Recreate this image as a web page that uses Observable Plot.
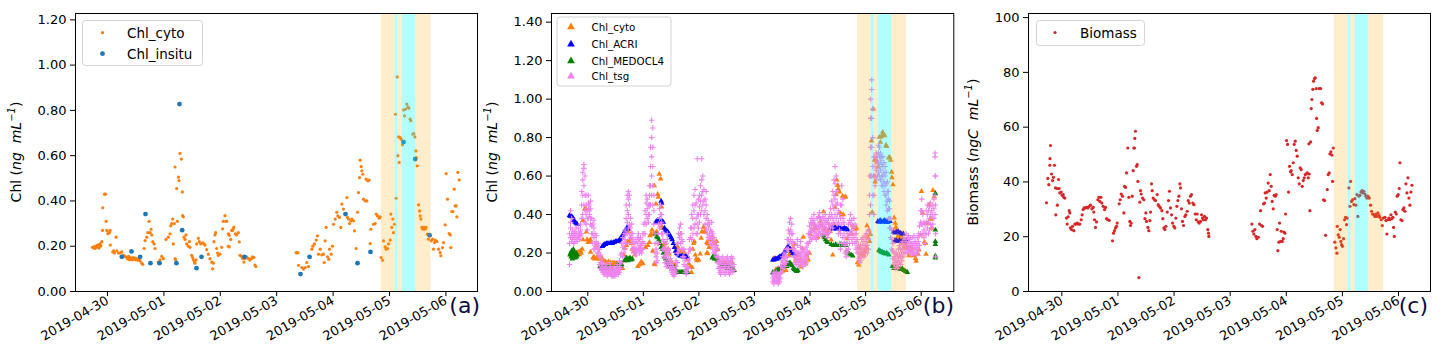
<!DOCTYPE html>
<html>
<head>
<meta charset="utf-8">
<script src="https://cdn.jsdelivr.net/npm/d3@7"></script>
<script src="https://cdn.jsdelivr.net/npm/@observablehq/plot@0.6"></script>
<style>
  body { margin: 0; background: #fff; }
  #wrap { display: flex; width: 1443px; height: 360px; }
  svg { display: block; }
</style>
</head>
<body>
<div id="wrap"></div>
<script>
// ---------------- data (day offsets from 2019-04-30 00:00 UTC) ----------------
const tickDays = [0, 1, 2, 3, 4, 5, 6];
const chlTicks = [0, 0.2, 0.4, 0.6, 0.8, 1.0, 1.2];
const chlTicksB = [0, 0.2, 0.4, 0.6, 0.8, 1.0, 1.2, 1.4];
const bioTicks = [0, 20, 40, 60, 80, 100];

const spanOrange = [[4.855, 5.10], [5.152, 5.225], [5.47, 5.735]];
const spanCyan = [[5.10, 5.152], [5.225, 5.47]];

const chlCyto = [
[-0.265,0.195],[-0.25,0.193],[-0.235,0.198],[-0.22,0.19],[-0.205,0.2],[-0.19,0.196],[-0.175,0.205],[-0.16,0.203],[-0.15,0.192],[-0.14,0.208],[-0.13,0.21],[-0.12,0.2],[-0.1,0.22],[-0.088,0.27],[-0.083,0.37],[-0.053,0.43],[-0.035,0.43],[-0.024,0.31],[-0.012,0.27],[0.006,0.255],[0.018,0.26],[0.035,0.26],[0.047,0.27],[0.05,0.205],[0.094,0.175],[0.11,0.18],[0.124,0.17],[0.153,0.24],[0.165,0.18],[0.195,0.17],[0.224,0.17],[0.254,0.175],[0.283,0.16],[0.313,0.155],[0.342,0.15],[0.358,0.145],[0.374,0.155],[0.39,0.14],[0.406,0.15],[0.422,0.145],[0.438,0.14],[0.454,0.15],[0.47,0.143],[0.486,0.148],[0.502,0.14],[0.518,0.145],[0.534,0.138],[0.549,0.142],[0.578,0.135],[0.608,0.125],[0.625,0.12],[0.649,0.19],[0.667,0.225],[0.696,0.24],[0.714,0.26],[0.737,0.31],[0.755,0.26],[0.773,0.275],[0.785,0.25],[0.802,0.22],[0.826,0.21],[0.844,0.19],[0.9,0.13],[0.932,0.14],[0.962,0.155],[0.991,0.145],[1.038,0.23],[1.08,0.24],[1.109,0.255],[1.121,0.29],[1.139,0.30],[1.156,0.32],[1.168,0.21],[1.186,0.30],[1.198,0.55],[1.198,0.145],[1.209,0.14],[1.227,0.455],[1.239,0.31],[1.257,0.505],[1.268,0.49],[1.286,0.61],[1.31,0.585],[1.327,0.44],[1.333,0.335],[1.345,0.33],[1.357,0.24],[1.375,0.23],[1.392,0.25],[1.404,0.21],[1.434,0.2],[1.451,0.22],[1.463,0.195],[1.493,0.16],[1.51,0.15],[1.522,0.14],[1.54,0.13],[1.552,0.125],[1.569,0.14],[1.581,0.21],[1.611,0.235],[1.628,0.22],[1.652,0.21],[1.687,0.215],[1.711,0.21],[1.729,0.205],[1.758,0.185],[1.788,0.165],[1.817,0.145],[1.847,0.13],[1.864,0.1],[1.876,0.125],[1.888,0.22],[1.906,0.25],[1.917,0.26],[1.935,0.19],[1.953,0.17],[1.965,0.16],[1.994,0.165],[2.024,0.195],[2.041,0.277],[2.053,0.31],[2.083,0.335],[2.1,0.31],[2.112,0.31],[2.142,0.255],[2.159,0.248],[2.183,0.23],[2.201,0.27],[2.218,0.27],[2.23,0.277],[2.242,0.285],[2.265,0.255],[2.289,0.25],[2.319,0.26],[2.336,0.219],[2.16,0.197],[2.142,0.2],[2.348,0.16],[2.378,0.155],[2.395,0.146],[2.419,0.13],[2.437,0.146],[2.466,0.153],[2.496,0.146],[2.525,0.139],[2.555,0.146],[2.572,0.153],[2.596,0.15],[2.614,0.117],[2.631,0.11],
[3.345,0.172],[3.36,0.17],[3.375,0.172],[3.387,0.116],[3.446,0.106],[3.475,0.099],[3.505,0.106],[3.534,0.128],[3.564,0.11],[3.593,0.15],[3.623,0.187],[3.641,0.2],[3.67,0.21],[3.7,0.227],[3.723,0.246],[3.741,0.165],[3.771,0.187],[3.8,0.162],[3.83,0.165],[3.859,0.224],[3.842,0.128],[3.877,0.283],[3.901,0.153],[3.924,0.143],[3.936,0.187],[3.966,0.165],[3.989,0.2],
[4.007,0.297],[4.037,0.32],[4.066,0.35],[4.084,0.334],[4.113,0.327],[4.137,0.283],[4.155,0.386],[4.184,0.364],[4.214,0.342],[4.243,0.415],[4.255,0.327],[4.273,0.32],[4.291,0.3],[4.314,0.312],[4.332,0.32],[4.362,0.312],[4.379,0.268],[4.409,0.19],[4.433,0.35],[4.45,0.437],[4.468,0.503],[4.48,0.58],[4.498,0.552],[4.509,0.533],[4.527,0.518],[4.539,0.408],[4.569,0.4],[4.586,0.496],[4.598,0.4],[4.616,0.489],[4.64,0.492],[4.657,0.212],[4.669,0.275],[4.716,0.297],[4.746,0.3],[4.764,0.342],[4.787,0.334],[4.817,0.324],[4.835,0.33],
[4.852,0.15],[4.876,0.138],[4.894,0.224],[4.923,0.197],[4.941,0.187],[4.965,0.19],[4.982,0.21],[5.012,0.227],[5.024,0.342],[5.041,0.283],[5.059,0.32],[5.071,0.26],[5.089,0.297],[5.106,0.783],[5.118,0.412],[5.136,0.948],[5.148,0.6],[5.16,0.683],[5.171,0.57],[5.189,0.68],[5.207,0.673],[5.23,0.648],[5.248,0.802],[5.266,0.776],[5.284,0.805],[5.307,0.828],[5.325,0.816],[5.343,0.81],[5.366,0.761],[5.378,0.754],[5.414,0.695],[5.431,0.698],[5.449,0.683],[5.467,0.621],[5.473,0.592],[5.491,0.555],[5.514,0.383],[5.532,0.356],[5.544,0.334],[5.556,0.32],[5.573,0.283],[5.591,0.275],[5.615,0.283],[5.632,0.275],[5.65,0.283],[5.674,0.253],[5.691,0.231],[5.721,0.246],[5.739,0.224],[5.762,0.231],[5.78,0.187],[5.798,0.216],[5.81,0.227],[5.839,0.221],[5.869,0.187],[5.898,0.172],[5.91,0.158],[5.94,0.194],[5.957,0.216],[5.987,0.294],[6.005,0.521],[6.028,0.408],[6.058,0.256],[6.076,0.25],[6.087,0.194],[6.105,0.353],[6.123,0.353],[6.147,0.452],[6.164,0.378],[6.182,0.378],[6.194,0.33],[6.212,0.526],[6.235,0.493]
];

const chlInsitu = [
[0.254,0.153],[0.426,0.177],[0.579,0.153],[0.674,0.342],[0.762,0.125],[0.922,0.125],[1.223,0.125],[1.277,0.828],[1.324,0.271],[1.578,0.103],[1.667,0.153],[2.429,0.153],[3.422,0.077],[3.582,0.153],[4.22,0.342],[4.433,0.125],[4.663,0.175],[5.248,0.66],[5.455,0.585],[5.709,0.249]
];

const chlACRI = [
[-0.33,0.395],[-0.31,0.39],[-0.29,0.39],[-0.27,0.385],[-0.25,0.37],[-0.23,0.36],[-0.21,0.355],[-0.19,0.35],
[0.26,0.235],[0.28,0.24],[0.30,0.245],[0.32,0.245],[0.34,0.25],[0.36,0.25],[0.38,0.25],[0.40,0.25],[0.42,0.255],[0.44,0.25],[0.46,0.255],[0.48,0.255],[0.50,0.26],[0.52,0.26],[0.54,0.26],[0.56,0.265],[0.58,0.27],[0.60,0.28],[0.62,0.29],[0.64,0.30],[0.66,0.31],[0.68,0.32],[0.70,0.33],[0.72,0.33],[0.74,0.325],
[1.22,0.36],[1.24,0.365],[1.26,0.37],[1.28,0.37],[1.30,0.36],[1.32,0.47],[1.33,0.46],[1.34,0.365],[1.36,0.36],[1.38,0.33],[1.40,0.32],[1.42,0.315],[1.44,0.31],[1.46,0.30],[1.48,0.29],[1.50,0.28],[1.52,0.27],[1.54,0.25],[1.56,0.23],[1.58,0.21],[1.60,0.20],[1.62,0.195],[1.64,0.19],[1.66,0.185],[1.68,0.185],[1.70,0.185],[1.72,0.18],[1.74,0.18],[1.76,0.18],[1.78,0.18],
[3.33,0.165],[3.35,0.165],[3.37,0.17],[3.39,0.17],[3.41,0.17],[3.43,0.175],[3.45,0.18],[3.47,0.18],[3.49,0.185],[3.51,0.19],[3.53,0.2],[3.55,0.21],[3.57,0.22],[3.59,0.23],[3.61,0.23],[3.63,0.225],[3.65,0.22],[3.67,0.21],[3.69,0.2],[3.71,0.195],
[4.38,0.33],[4.40,0.33],[4.42,0.325],[4.44,0.33],[4.46,0.33],[4.48,0.325],[4.50,0.33],[4.52,0.33],[4.54,0.325],[4.56,0.33],[4.58,0.325],[4.60,0.325],[4.62,0.33],[4.64,0.325],[4.66,0.325],[4.68,0.32],
[5.22,0.365],[5.24,0.36],[5.26,0.37],[5.28,0.365],[5.30,0.36],[5.32,0.365],[5.34,0.37],[5.36,0.365],[5.38,0.36],[5.40,0.36],[5.42,0.37],[5.44,0.365],
[5.50,0.31],[5.53,0.305],[5.56,0.31],[5.59,0.31],[5.62,0.305],[5.65,0.30],[5.68,0.30],
[5.52,0.265],[5.55,0.265],[5.58,0.26],[5.61,0.265],[5.64,0.26],[5.67,0.265],[5.70,0.26],[5.73,0.265]
];

const chlMEDOCL4 = [
[-0.32,0.19],[-0.31,0.2],[-0.30,0.18],[-0.29,0.21],[-0.28,0.17],[-0.27,0.2],[-0.26,0.22],[-0.25,0.185],[-0.24,0.2],[-0.23,0.175],[-0.22,0.19],[-0.21,0.2],[-0.2,0.18],[-0.19,0.19],
[0.22,0.13],[0.24,0.125],[0.26,0.12],[0.28,0.125],[0.30,0.125],[0.32,0.12],[0.34,0.125],[0.36,0.12],[0.38,0.125],[0.40,0.12],[0.42,0.125],[0.44,0.12],
[0.53,0.14],[0.55,0.135],[0.57,0.14],[0.59,0.135],[0.61,0.14],
[0.66,0.16],[0.68,0.17],[0.70,0.175],[0.72,0.16],[0.74,0.17],[0.76,0.175],[0.78,0.165],[0.80,0.17],
[1.22,0.30],[1.24,0.285],[1.26,0.28],[1.28,0.27],[1.30,0.25],[1.32,0.23],[1.34,0.22],[1.36,0.2],[1.38,0.18],[1.40,0.17],[1.42,0.155],[1.44,0.15],[1.46,0.14],[1.48,0.13],[1.50,0.125],[1.52,0.125],[1.54,0.12],[1.56,0.125],
[1.60,0.105],[1.62,0.1],[1.64,0.1],[1.66,0.1],[1.68,0.1],[1.70,0.1],[1.72,0.1],[1.74,0.1],[1.76,0.1],[1.78,0.105],[1.80,0.1],
[2.24,0.175],[2.26,0.185],[2.28,0.17],[2.30,0.18],[2.32,0.17],[2.34,0.165],
[2.42,0.14],[2.45,0.13],[2.48,0.135],[2.51,0.12],[2.54,0.13],[2.57,0.125],[2.60,0.12],[2.63,0.11],
[3.33,0.1],[3.35,0.095],[3.37,0.1],[3.39,0.105],[3.41,0.11],[3.43,0.12],[3.45,0.115],[3.47,0.12],[3.49,0.125],[3.51,0.13],
[3.58,0.13],[3.60,0.14],[3.62,0.145],[3.64,0.15],[3.66,0.14],[3.68,0.135],[3.70,0.12],[3.72,0.115],[3.74,0.11],[3.76,0.105],[3.78,0.11],
[4.24,0.29],[4.26,0.28],[4.28,0.27],[4.30,0.26],[4.32,0.255],
[4.38,0.245],[4.42,0.24],[4.46,0.245],[4.50,0.24],[4.54,0.245],[4.58,0.24],[4.62,0.245],[4.65,0.24],
[4.68,0.2],[4.71,0.195],[4.74,0.19],[4.77,0.185],
[5.24,0.215],[5.26,0.21],[5.28,0.205],[5.30,0.205],[5.32,0.2],[5.34,0.2],[5.36,0.195],[5.38,0.2],[5.40,0.195],[5.42,0.19],
[5.48,0.13],[5.51,0.12],[5.54,0.125],[5.57,0.12],[5.60,0.12],[5.63,0.115],[5.66,0.12],[5.69,0.11],[5.72,0.105],[5.75,0.1],
[6.255,0.51],[6.255,0.32],[6.255,0.26],[6.255,0.245],[6.255,0.185],[6.255,0.175]
];

// each row: day, then the readings taken around that time
const chlTsg = [
[-0.33,0.14,0.30,0.25],[-0.31,0.28,0.33,0.36,0.42],[-0.29,0.3,0.26,0.38],[-0.27,0.27,0.29,0.32],[-0.25,0.25,0.28,0.3],[-0.23,0.26,0.29,0.31],[-0.21,0.27,0.3,0.33],[-0.19,0.26,0.28],[-0.17,0.28,0.3,0.33],[-0.15,0.27,0.29,0.3],[-0.13,0.29,0.32,0.35],[-0.11,0.3,0.38,0.45,0.52],[-0.09,0.4,0.5,0.58,0.62],[-0.07,0.45,0.55,0.64,0.66],[-0.05,0.36,0.42,0.5,0.6],[-0.03,0.35,0.4,0.45,0.5],[-0.01,0.32,0.38,0.42],
[0.01,0.38,0.43,0.46,0.5],[0.03,0.4,0.42,0.45],[0.05,0.35,0.38,0.43,0.47],[0.07,0.3,0.34,0.38],[0.09,0.25,0.3,0.35],[0.11,0.22,0.28,0.33,0.37],[0.13,0.22,0.25,0.3],[0.15,0.23,0.26,0.29],[0.17,0.2,0.24],[0.19,0.2,0.22,0.25],[0.21,0.14,0.18,0.22],[0.23,0.12,0.15,0.19],[0.25,0.11,0.14,0.17],[0.27,0.1,0.12,0.15],[0.29,0.09,0.11,0.13],[0.31,0.09,0.1,0.12],[0.33,0.1,0.12,0.14],[0.35,0.08,0.1,0.12],[0.37,0.09,0.11],[0.39,0.1,0.12,0.15],[0.41,0.09,0.11,0.13],[0.43,0.08,0.1,0.12],[0.45,0.08,0.09,0.11],[0.47,0.08,0.1,0.12],[0.49,0.08,0.09,0.1],[0.51,0.09,0.11,0.13],[0.53,0.1,0.12,0.14],[0.55,0.09,0.1,0.12],[0.57,0.1,0.13,0.16],[0.59,0.12,0.15,0.19],[0.61,0.15,0.2,0.25],[0.63,0.18,0.23,0.28],[0.65,0.2,0.25,0.3],[0.67,0.22,0.27,0.32],[0.69,0.25,0.3,0.38,0.45],[0.71,0.3,0.36,0.42,0.5],[0.73,0.33,0.4,0.48,0.52],[0.75,0.3,0.35,0.45,0.5],[0.77,0.28,0.33,0.38],[0.79,0.25,0.3,0.35],[0.81,0.22,0.26,0.3],[0.83,0.2,0.23,0.27],[0.85,0.2,0.22,0.25],[0.87,0.19,0.22,0.26],[0.89,0.21,0.25,0.28],[0.91,0.22,0.27,0.3],[0.93,0.2,0.23,0.27],[0.95,0.21,0.24,0.28],[0.97,0.2,0.22,0.25],[0.99,0.22,0.26,0.3],
[1.01,0.25,0.3,0.35],[1.03,0.3,0.36,0.42],[1.05,0.35,0.4,0.46,0.5],[1.07,0.38,0.43,0.48],[1.09,0.36,0.4,0.45],[1.11,0.4,0.45,0.5,0.55],[1.13,0.45,0.55,0.65,0.75],[1.15,0.5,0.6,0.7,0.8,0.89],[1.17,0.45,0.55,0.65,0.75,0.85],[1.19,0.35,0.42,0.5],[1.21,0.2,0.25,0.3],[1.23,0.15,0.18,0.22],[1.25,0.16,0.2,0.25],[1.27,0.25,0.3,0.35],[1.29,0.33,0.38,0.43],[1.31,0.35,0.4,0.45],[1.33,0.3,0.36,0.4],[1.35,0.22,0.27,0.3],[1.37,0.18,0.22,0.26],[1.39,0.15,0.19,0.23],[1.41,0.13,0.17,0.21,0.25],[1.43,0.15,0.2,0.27,0.3],[1.45,0.14,0.18,0.22],[1.47,0.12,0.16,0.2],[1.49,0.12,0.14,0.17],[1.51,0.1,0.12,0.15],[1.53,0.09,0.11,0.13],[1.55,0.08,0.1,0.12],[1.57,0.09,0.11],[1.59,0.1,0.13,0.16],[1.61,0.15,0.2,0.25],[1.63,0.2,0.25,0.3],[1.65,0.22,0.28,0.33],[1.67,0.25,0.3,0.35],[1.69,0.22,0.27,0.3],[1.71,0.18,0.22,0.26],[1.73,0.14,0.18,0.22],[1.75,0.1,0.13,0.16],[1.77,0.09,0.11,0.13],[1.79,0.1,0.13],[1.81,0.12,0.16,0.2],[1.83,0.17,0.22,0.27],[1.85,0.22,0.28,0.33],[1.87,0.27,0.33,0.4],[1.89,0.3,0.38,0.45],[1.91,0.33,0.42,0.5],[1.93,0.35,0.45,0.53],[1.95,0.3,0.38,0.46],[1.97,0.3,0.35,0.4,0.69],[1.99,0.33,0.4,0.48],
[2.01,0.36,0.44,0.5],[2.03,0.4,0.47,0.55],[2.05,0.42,0.5,0.58,0.69],[2.07,0.45,0.52,0.6],[2.09,0.4,0.47,0.53],[2.11,0.35,0.42,0.48],[2.13,0.32,0.38,0.45,0.52],[2.15,0.3,0.35,0.4],[2.17,0.28,0.33,0.37],[2.19,0.27,0.3,0.35],[2.21,0.25,0.28,0.32],[2.23,0.24,0.28,0.31,0.36],[2.25,0.22,0.26,0.3],[2.27,0.2,0.24,0.28],[2.29,0.2,0.23,0.26],[2.31,0.18,0.21,0.24],[2.33,0.15,0.18,0.22],[2.35,0.12,0.15,0.18],[2.37,0.1,0.13,0.16],[2.39,0.09,0.12,0.15],[2.41,0.1,0.14,0.17],[2.43,0.12,0.15,0.18],[2.45,0.1,0.13,0.16],[2.47,0.09,0.12,0.14],[2.49,0.1,0.14,0.17],[2.51,0.12,0.16,0.18],[2.53,0.1,0.13,0.16],[2.55,0.09,0.12,0.15],[2.57,0.1,0.14,0.17],[2.59,0.11,0.15,0.18],[2.61,0.1,0.13,0.17],[2.63,0.11,0.14],
[3.33,0.05,0.07,0.09],[3.35,0.04,0.06,0.08,0.1],[3.37,0.05,0.07,0.09],[3.39,0.06,0.08,0.1],[3.41,0.05,0.07,0.09],[3.43,0.04,0.06,0.08],[3.45,0.05,0.07,0.09],[3.47,0.07,0.1,0.13],[3.49,0.1,0.13,0.16],[3.51,0.12,0.15,0.18],[3.53,0.14,0.17,0.2],[3.55,0.13,0.16,0.19],[3.57,0.15,0.18,0.22],[3.59,0.18,0.22,0.27],[3.61,0.22,0.27,0.32],[3.63,0.25,0.3,0.36],[3.65,0.27,0.32,0.38],[3.67,0.25,0.3,0.35],[3.69,0.22,0.26,0.3],[3.71,0.18,0.22,0.25],[3.73,0.15,0.18,0.21],[3.75,0.14,0.17,0.2],[3.77,0.16,0.2,0.24,0.27],[3.79,0.14,0.17,0.2],[3.81,0.13,0.16,0.19],[3.83,0.15,0.19,0.23,0.26],[3.85,0.14,0.17,0.21],[3.87,0.13,0.16,0.2],[3.89,0.15,0.18,0.22],[3.91,0.14,0.17,0.2],[3.93,0.15,0.19,0.23],[3.95,0.17,0.21,0.25],[3.97,0.2,0.25,0.3],[3.99,0.26,0.3,0.34],
[4.01,0.28,0.32,0.36],[4.03,0.27,0.31,0.35,0.38],[4.05,0.28,0.32,0.36],[4.07,0.29,0.33,0.37,0.4],[4.09,0.28,0.31,0.35],[4.11,0.27,0.3,0.34],[4.13,0.29,0.33,0.38],[4.15,0.3,0.34,0.39],[4.17,0.32,0.36,0.41],[4.19,0.3,0.34,0.38],[4.21,0.29,0.33,0.37],[4.23,0.31,0.35,0.39],[4.25,0.3,0.34,0.38],[4.27,0.32,0.36,0.4],[4.29,0.3,0.33,0.37],[4.31,0.28,0.32,0.36],[4.33,0.3,0.35,0.38],[4.35,0.31,0.35,0.4],[4.37,0.33,0.38,0.43],[4.39,0.35,0.4,0.47],[4.41,0.33,0.38,0.45,0.52],[4.43,0.36,0.43,0.5,0.58],[4.45,0.4,0.48,0.56,0.65],[4.47,0.38,0.45,0.52,0.6],[4.49,0.35,0.4,0.46],[4.51,0.3,0.36,0.42],[4.53,0.25,0.32,0.4],[4.55,0.22,0.3,0.38,0.45],[4.57,0.25,0.35,0.45,0.55],[4.59,0.28,0.38,0.48],[4.61,0.25,0.3,0.36],[4.63,0.2,0.24,0.28],[4.65,0.18,0.21,0.25],[4.67,0.2,0.25,0.3],[4.69,0.22,0.28,0.35],[4.71,0.25,0.3,0.37],[4.73,0.3,0.35,0.4],[4.75,0.27,0.32,0.37],[4.77,0.25,0.3,0.34],[4.79,0.28,0.33,0.38],[4.81,0.25,0.3,0.35],[4.83,0.22,0.26,0.3],[4.85,0.2,0.23,0.27],[4.87,0.17,0.2,0.24],[4.89,0.15,0.18,0.22],[4.91,0.16,0.2,0.24],[4.93,0.18,0.22,0.27],[4.95,0.2,0.24,0.28],[4.97,0.18,0.22,0.26],[4.99,0.2,0.24,0.29],
[5.01,0.22,0.26,0.3],[5.03,0.2,0.24,0.28],[5.05,0.22,0.27,0.32],[5.07,0.3,0.4,0.5,0.6],[5.09,0.45,0.6,0.75,0.9,1.0],[5.11,0.6,0.75,0.9,1.05,1.1],[5.13,0.5,0.65,0.8,0.95],[5.15,0.4,0.5,0.6,0.7],[5.17,0.55,0.6,0.65,0.7],[5.19,0.58,0.63,0.68,0.72],[5.21,0.6,0.65,0.7],[5.23,0.62,0.67,0.72,0.76],[5.25,0.6,0.65,0.7,0.75],[5.27,0.58,0.63,0.68,0.72],[5.29,0.55,0.6,0.66,0.7],[5.31,0.55,0.6,0.65,0.7],[5.33,0.52,0.57,0.62,0.67],[5.35,0.5,0.55,0.6,0.65],[5.37,0.45,0.5,0.56,0.62],[5.39,0.42,0.47,0.52,0.57],[5.41,0.38,0.43,0.48,0.52],[5.43,0.33,0.38,0.43,0.47],[5.45,0.28,0.33,0.38],[5.47,0.22,0.27,0.32],[5.49,0.17,0.21,0.25],[5.51,0.14,0.17,0.2],[5.53,0.12,0.15,0.18],[5.55,0.13,0.16,0.2],[5.57,0.12,0.15,0.19],[5.59,0.13,0.17,0.22],[5.61,0.15,0.19,0.24],[5.63,0.14,0.18,0.22],[5.65,0.16,0.2,0.25],[5.67,0.18,0.22,0.26],[5.69,0.2,0.24,0.28],[5.71,0.2,0.24,0.27],[5.73,0.22,0.26,0.3],[5.75,0.2,0.24,0.28],[5.77,0.22,0.26,0.29],[5.79,0.2,0.23,0.27],[5.81,0.21,0.25,0.28],[5.83,0.19,0.22,0.25],[5.85,0.2,0.24,0.28],[5.87,0.22,0.25,0.29],[5.89,0.2,0.23,0.26],[5.91,0.19,0.22,0.25],[5.93,0.2,0.24,0.28],[5.95,0.22,0.26,0.3],[5.97,0.24,0.29,0.34],[5.99,0.3,0.36,0.42],
[6.01,0.35,0.42,0.48],[6.03,0.3,0.35,0.4],[6.05,0.28,0.32,0.36],[6.07,0.25,0.3,0.35],[6.09,0.3,0.36,0.42],[6.11,0.33,0.4,0.45],[6.13,0.3,0.36,0.42],[6.15,0.32,0.38,0.44],[6.17,0.35,0.4,0.46],[6.19,0.33,0.38,0.42],[6.21,0.35,0.4,0.45],[6.23,0.38,0.43,0.48],[6.25,0.4,0.5,0.6,0.7,0.72],[6.26,0.18,0.3,0.45,0.6]
];

const biomass = [
[-0.273,32.4],[-0.25,41.3],[-0.232,39],[-0.214,46.1],[-0.202,53.3],[-0.211,48.5],[-0.184,42.9],[-0.166,40.5],[-0.149,41.7],[-0.131,46.1],[-0.113,37.8],[-0.107,28],[-0.083,37.6],[-0.08,31.5],[-0.059,40.9],[-0.048,37.6],[-0.036,36],[-0.012,36.3],[0.006,35.1],[0.024,35.4],[0.036,34.4],[0.053,34.1],
[0.083,26.8],[0.095,24.6],[0.113,27.3],[0.131,29.5],[0.143,28.7],[0.154,23.2],[0.172,22.6],[0.19,23.8],[0.214,22.2],[0.232,24.6],[0.255,24.6],[0.273,25],[0.297,24.6],[0.321,24.6],[0.345,26.2],[0.362,28],[0.38,29.9],[0.398,30.5],[0.422,30.5],[0.44,30.7],[0.463,30.5],[0.487,31.1],[0.511,31.5],[0.535,30.2],[0.559,30.7],[0.57,29],[0.582,26.2],[0.6,23.4],[0.618,25.4],[0.642,33.5],[0.66,34.4],[0.677,32.9],[0.695,34.4],[0.713,32.3],[0.737,31.1],[0.761,29.9],[0.778,30.7],[0.796,26.6],[0.82,26.2],[0.844,26],[0.903,18.5],[0.921,21.3],[0.939,22.2],[0.957,23.2],[0.974,23.8],[0.986,25],
[1.022,32],[1.04,33.5],[1.058,35.6],[1.081,34.8],[1.105,28.7],[1.117,38.4],[1.135,38],[1.153,43.3],[1.176,52.4],[1.194,34.4],[1.212,25.6],[1.224,24.1],[1.236,25],[1.254,34.8],[1.272,44.1],[1.283,52.4],[1.295,52.4],[1.301,55.9],[1.313,58.5],[1.331,45.7],[1.343,46.3],[1.355,40.2],[1.373,5.1],[1.39,32.6],[1.402,36.8],[1.414,35.6],[1.438,34.1],[1.462,33.5],[1.48,26.6],[1.497,28.7],[1.509,25.6],[1.533,23.4],[1.551,22.2],[1.569,25.9],[1.581,29],[1.598,39.3],[1.61,36.8],[1.628,34.1],[1.652,33.5],[1.67,33.2],[1.699,35.4],[1.717,31.7],[1.735,31.1],[1.759,30.5],[1.783,29.5],[1.8,26.6],[1.818,23.2],[1.836,22.6],[1.854,23.8],[1.878,29],[1.901,33.2],[1.919,36.6],[1.937,30.5],[1.955,28],[1.973,25],[1.996,23.8],
[2.014,23.2],[2.032,26.8],[2.05,31.1],[2.068,33.2],[2.086,34.8],[2.103,39.3],[2.115,37.8],[2.133,30.2],[2.151,25.6],[2.169,24.1],[2.193,27.4],[2.21,28],[2.234,29.3],[2.252,33.2],[2.27,32.3],[2.293,34.8],[2.311,35.4],[2.335,32.3],[2.353,31.7],[2.377,28.3],[2.395,26.2],[2.412,28.3],[2.43,25.4],[2.448,25],[2.472,25.6],[2.49,28],[2.507,26.8],[2.525,26.2],[2.543,27.4],[2.561,26.2],[2.579,26.8],[2.602,22.6],[2.614,21.3],[2.62,20.1],
[3.387,24.6],[3.405,22],[3.422,21],[3.44,22.6],[3.458,20.1],[3.476,19.3],[3.5,19.8],[3.523,24.6],[3.541,29.5],[3.559,24.1],[3.577,23.8],[3.595,32],[3.613,32.3],[3.624,36],[3.642,34.1],[3.66,36.3],[3.678,39.6],[3.696,36.8],[3.714,42.7],[3.731,38.4],[3.749,32.9],[3.767,30.2],[3.785,35.1],[3.803,34.8],[3.821,35.4],[3.838,22.6],[3.85,14.9],[3.868,18],[3.88,25],[3.898,18.3],[3.91,22],[3.928,18.3],[3.945,19.3],[3.957,21.7],[3.975,21.3],[3.987,28.3],
[4.005,55.1],[4.023,53.7],[4.04,36.3],[4.058,45.7],[4.076,43.7],[4.088,44.1],[4.106,42.7],[4.124,47],[4.141,53.7],[4.159,54.9],[4.177,51.5],[4.195,49.4],[4.213,41.5],[4.231,39.3],[4.248,45.1],[4.266,44.5],[4.284,38.4],[4.302,40.5],[4.32,41.5],[4.338,42.7],[4.355,42.9],[4.373,43.3],[4.391,41.5],[4.403,53.9],[4.409,42.9],[4.421,29.5],[4.433,54.6],[4.444,66.8],[4.456,70.1],[4.474,73.8],[4.486,76.8],[4.504,77.8],[4.516,78],[4.534,74.1],[4.54,63.2],[4.551,58.8],[4.569,59.8],[4.587,74.1],[4.611,74.1],[4.629,68.9],[4.646,68.5],[4.664,33.5],[4.682,33.2],[4.7,20.5],[4.73,37.2],[4.747,42.7],[4.765,43.3],[4.777,50.2],[4.795,51],[4.813,49.8],[4.825,40.2],[4.837,52.4],
[4.866,18],[4.884,15.9],[4.902,14],[4.908,23.8],[4.926,20.7],[4.944,19.8],[4.961,22.6],[4.973,18.3],[4.985,17.1],[5.003,16.5],[5.021,19.3],[5.039,26.2],[5.056,27.1],[5.074,24.4],[5.086,26.8],[5.116,37.8],[5.134,31.1],[5.146,40.2],[5.163,32.9],[5.181,33.5],[5.205,31.7],[5.223,33.9],[5.241,31.5],[5.258,35.4],[5.276,27.4],[5.294,34.8],[5.312,35.1],[5.33,36.3],[5.348,36.8],[5.365,36],[5.383,36.6],[5.401,35.6],[5.419,34.8],[5.437,34.1],[5.455,34.8],[5.478,34.1],[5.502,31.5],[5.52,29.3],[5.538,28.3],[5.562,28],[5.579,27.4],[5.597,28.3],[5.615,27.4],[5.633,28.7],[5.651,27.8],[5.668,27.1],[5.692,26.2],[5.71,24.1],[5.728,26.8],
[5.758,27.1],[5.776,25.9],[5.793,21],[5.811,26.2],[5.829,26.8],[5.847,26.2],[5.865,28],[5.882,26.6],[5.9,27.1],[5.912,23.4],[5.924,20.1],[5.942,29],[5.96,28.3],[5.977,34.8],[5.995,35.4],[6.013,37.6],[6.025,47],[6.043,26.2],[6.061,25.9],[6.078,29.9],[6.096,30.5],[6.114,29.3],[6.132,39.3],[6.15,36],[6.168,41.5],[6.185,34.1],[6.203,31.5],[6.221,36.3],[6.239,38.8]
];

// ---------------- helpers ----------------
const base = Date.UTC(2019, 3, 30);
const toDate = d => new Date(base + d * 864e5);
const pts = arr => arr.map(([d, v]) => ({t: toDate(d), v}));
const tsgPts = chlTsg.flatMap(([d, ...vs]) => vs.map(v => ({t: toDate(d), v})));
const spans = arr => arr.map(([a, b]) => ({a: toDate(a), b: toDate(b)}));
const FONT = "DejaVu Sans";

function basePlot({width, marginLeft, marginRight, xdom, ydom, yticks, yfmt, marks}) {
  return Plot.plot({
    width, height: 360, marginLeft, marginRight, marginTop: 13, marginBottom: 69,
    style: {fontFamily: FONT, fontSize: "13px", color: "#000", background: "#fff", overflow: "visible"},
    x: {type: "utc", domain: xdom.map(toDate), ticks: tickDays.map(toDate),
        tickFormat: d3.utcFormat("%Y-%m-%d"), tickRotate: -30, label: null, tickSize: 5, tickPadding: 3},
    y: {domain: ydom, ticks: yticks, tickFormat: yfmt, label: null, tickSize: 5, tickPadding: 4},
    marks: [
      ...marks,
      Plot.rect(spans(spanOrange), {x1: "a", x2: "b", fill: "#ffa500", fillOpacity: 0.2}),
      Plot.rect(spans(spanCyan), {x1: "a", x2: "b", fill: "#00ffff", fillOpacity: 0.3}),
      Plot.frame({stroke: "#000", strokeWidth: 1})
    ]
  });
}

function ylabel(svg, x, y, pre, unit) {
  const t = d3.select(svg).append("text")
    .attr("transform", `translate(${x},${y}) rotate(-90)`)
    .attr("text-anchor", "middle").attr("font-family", FONT).attr("font-size", 14).attr("fill", "#000");
  t.append("tspan").text(pre + " (");
  t.append("tspan").attr("font-style", "italic").text(unit);
  t.append("tspan").attr("font-style", "italic").attr("font-size", 10).attr("dy", -6).text("−1");
  t.append("tspan").attr("dy", 6).text(")");
}

function letter(svg, x, txt) {
  d3.select(svg).append("text").attr("x", x).attr("y", 313).attr("text-anchor", "end")
    .attr("font-family", FONT).attr("font-size", 22).attr("fill", "#0d0d45").text(txt);
}

function legendBox(svg, x, y, w, h) {
  const g = d3.select(svg).append("g").attr("text-anchor", "start");
  g.append("rect").attr("x", x).attr("y", y).attr("width", w).attr("height", h).attr("rx", 3)
    .attr("fill", "#fff").attr("fill-opacity", 0.8).attr("stroke", "#d4d4d4").attr("stroke-width", 1);
  return g;
}

const wrap = document.getElementById("wrap");

// ---------------- panel (a) ----------------
const svgA = basePlot({
  width: 481, marginLeft: 75, marginRight: 4, xdom: [-0.567, 6.56], ydom: [0, 1.228],
  yticks: chlTicks, yfmt: d3.format(".2f"),
  marks: [
    Plot.dot(pts(chlCyto), {x: "t", y: "v", r: 1.6, fill: "#ff7f0e"}),
    Plot.dot(pts(chlInsitu), {x: "t", y: "v", r: 2.4, fill: "#1f77b4"})
  ]
});
ylabel(svgA, 21, 152, "Chl", "ng  mL");
letter(svgA, 480, "(a)");
{
  const g = legendBox(svgA, 82.5, 20.5, 120, 45);
  g.append("circle").attr("cx", 102.5).attr("cy", 32.7).attr("r", 1.6).attr("fill", "#ff7f0e");
  g.append("circle").attr("cx", 102.5).attr("cy", 53.7).attr("r", 2.4).attr("fill", "#1f77b4");
  g.append("text").attr("text-anchor", "start").attr("x", 127).attr("y", 37.5).attr("font-family", FONT).attr("font-size", 13.5).text("Chl_cyto");
  g.append("text").attr("text-anchor", "start").attr("x", 127).attr("y", 58.5).attr("font-family", FONT).attr("font-size", 13.5).text("Chl_insitu");
}
wrap.appendChild(svgA);

// ---------------- panel (b) ----------------
const tri = {symbol: "triangle", r: 2.1};
const svgB = basePlot({
  width: 481, marginLeft: 70, marginRight: 8.7, xdom: [-0.653, 6.587], ydom: [0, 1.445],
  yticks: chlTicksB, yfmt: d3.format(".2f"),
  marks: [
    Plot.dot(pts(chlCyto), {x: "t", y: "v", ...tri, fill: "#ff7f0e"}),
    Plot.dot(pts(chlACRI), {x: "t", y: "v", ...tri, fill: "#0000ff"}),
    Plot.dot(pts(chlMEDOCL4), {x: "t", y: "v", ...tri, fill: "#008000"}),
    Plot.dot(tsgPts, {x: "t", y: "v", symbol: "plus", r: 1.9, stroke: "#ee82ee", strokeWidth: 1.1})
  ]
});
ylabel(svgB, 16, 152, "Chl", "ng  mL");
letter(svgB, 473, "(b)");
{
  const g = legendBox(svgB, 76, 17, 114, 69);
  const items = [["Chl_cyto", "#ff7f0e", 27], ["Chl_ACRI", "#0000ff", 44.3], ["Chl_MEDOCL4", "#008000", 61], ["Chl_tsg", "#ee82ee", 76.3]];
  const sym = d3.symbol().type(d3.symbolTriangle).size(26);
  for (const [name, c, y] of items) {
    g.append("path").attr("d", sym()).attr("transform", `translate(90,${y})`).attr("fill", c);
    g.append("text").attr("text-anchor", "start").attr("x", 110.5).attr("y", y + 4).attr("font-family", FONT).attr("font-size", 10.3).text(name);
  }
}
wrap.appendChild(svgB);

// ---------------- panel (c) ----------------
const svgC = basePlot({
  width: 481, marginLeft: 66, marginRight: 13, xdom: [-0.594, 6.57], ydom: [0, 101.5],
  yticks: bioTicks, yfmt: d3.format("d"),
  marks: [
    Plot.dot(pts(biomass), {x: "t", y: "v", r: 1.6, fill: "#d62728"})
  ]
});
ylabel(svgC, 16, 152, "Biomass", "ngC  mL");
letter(svgC, 466, "(c)");
{
  const g = legendBox(svgC, 74.5, 20.5, 108, 25);
  g.append("circle").attr("cx", 93).attr("cy", 32.5).attr("r", 1.6).attr("fill", "#d62728");
  g.append("text").attr("text-anchor", "start").attr("x", 118).attr("y", 37.5).attr("font-family", FONT).attr("font-size", 13.5).text("Biomass");
}
wrap.appendChild(svgC);
</script>
</body>
</html>
